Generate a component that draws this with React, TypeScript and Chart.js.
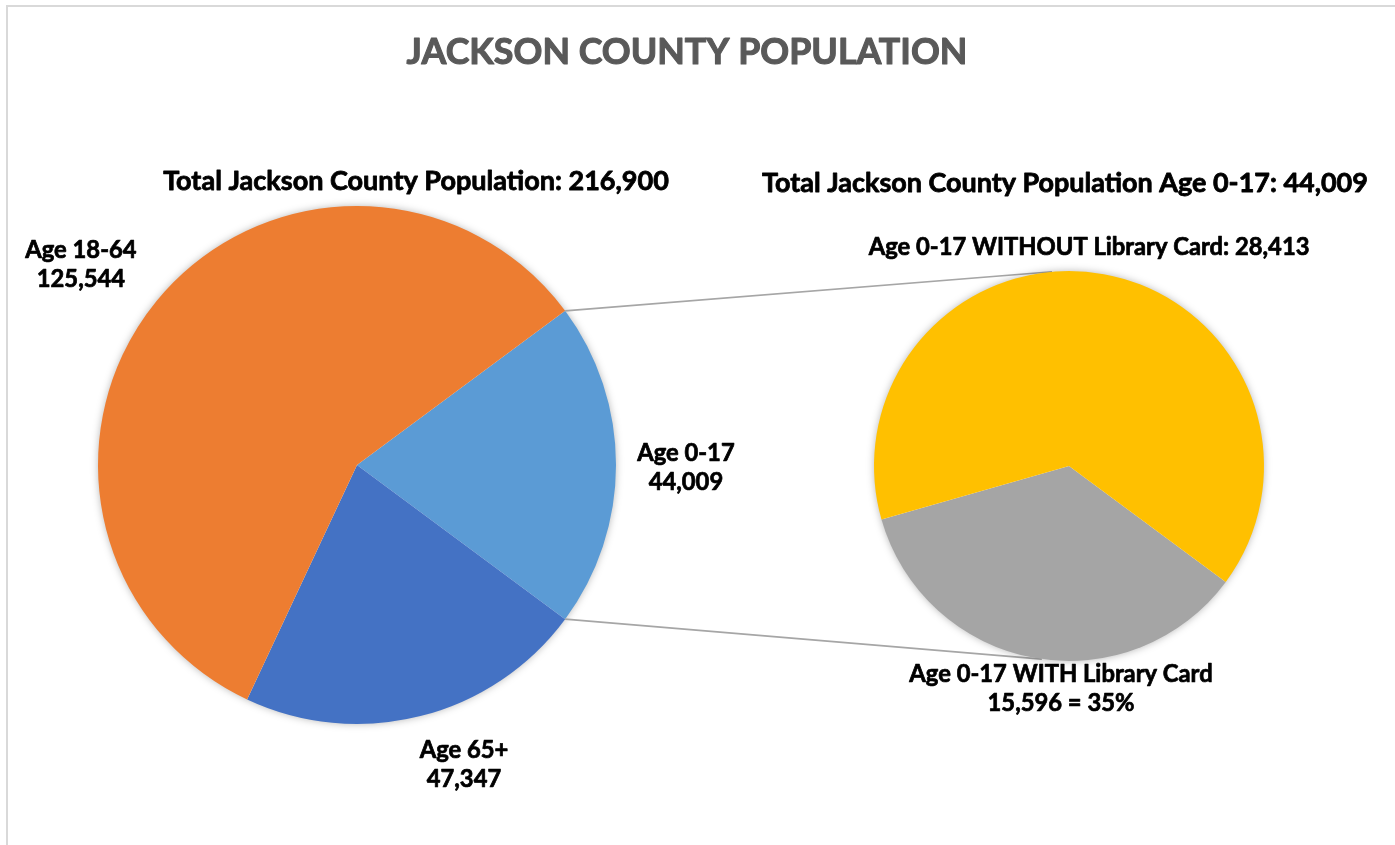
import React, { useEffect, useRef } from "react";
import { Chart, registerables } from "chart.js";

Chart.register(...registerables);

// ---- data ----
const mainCategories = ["Age 0-17", "Age 65+", "Age 18-64"];
const mainValues = [44009, 47347, 125544];
const mainColors = ["#5B9BD5", "#4472C4", "#ED7D31"];

const subCategories = ["Age 0-17 WITH Library Card", "Age 0-17 WITHOUT Library Card"];
const subValues = [15596, 28413];
const subColors = ["#A5A5A5", "#FFC000"];

const chartTitle = "JACKSON COUNTY POPULATION";
const mainTotalLabel = "Total Jackson County Population: 216,900";
const subTotalLabel = "Total Jackson County Population Age 0-17: 44,009";

const FONT = "Lato, 'Open Sans', sans-serif";
const W = 1395;
const H = 845;

const fmt = (v: number) => v.toLocaleString("en-US");

function fitSize(ctx: CanvasRenderingContext2D, text: string, targetW: number) {
  ctx.font = `bold 100px ${FONT}`;
  const w = ctx.measureText(text).width;
  return (100 * targetW) / w;
}

function drawLines(
  ctx: CanvasRenderingContext2D,
  lines: string[],
  cx: number,
  cy: number,
  size: number,
  color: string,
  lh: number
) {
  ctx.save();
  ctx.font = `bold ${size}px ${FONT}`;
  ctx.fillStyle = color;
  ctx.strokeStyle = color;
  ctx.lineWidth = size * 0.03;
  ctx.lineJoin = "round";
  ctx.textAlign = "center";
  ctx.textBaseline = "middle";
  const start = cy - ((lines.length - 1) * lh) / 2;
  lines.forEach((l, i) => {
    ctx.fillText(l, cx, start + i * lh);
    ctx.strokeText(l, cx, start + i * lh);
  });
  ctx.restore();
}

function pieGeom(chart: any) {
  const arc: any = chart.getDatasetMeta(0).data[0];
  const p = arc.getProps(["x", "y", "outerRadius"], true);
  return { x: p.x as number, y: p.y as number, r: p.outerRadius as number };
}

function shadowCircle(chart: any) {
  const { ctx } = chart;
  const g = pieGeom(chart);
  ctx.save();
  ctx.beginPath();
  ctx.arc(g.x, g.y, g.r - 1, 0, Math.PI * 2);
  ctx.fillStyle = "#ffffff";
  ctx.shadowColor = "rgba(0,0,0,0.35)";
  ctx.shadowBlur = 9;
  ctx.fill();
  ctx.restore();
}

export default function App() {
  const leftRef = useRef<HTMLCanvasElement>(null);
  const rightRef = useRef<HTMLCanvasElement>(null);

  useEffect(() => {
    if (!leftRef.current || !rightRef.current) return;
    const leftC = { x: 357, y: 465, r: 259 };
    const rightC = { x: 1069, y: 466, r: 195 };

    const mainTotal = mainValues.reduce((a, b) => a + b, 0);
    const subTotal = subValues.reduce((a, b) => a + b, 0);
    const mainRotation = 90 - ((mainValues[0] / mainTotal) * 360) / 2;
    const subRotation = 126.5;

    const labelSizeOf = (ctx: CanvasRenderingContext2D) =>
      fitSize(ctx, `${subCategories[1]}: ${fmt(subValues[1])}`, 441);

    const leftPlugin = {
      id: "leftDecor",
      beforeDatasetsDraw(chart: any) {
        shadowCircle(chart);
      },
      afterDraw(chart: any) {
        const ctx: CanvasRenderingContext2D = chart.ctx;
        const g = pieGeom(chart);
        const titleSize = fitSize(ctx, chartTitle, 561);
        drawLines(ctx, [chartTitle], 687, 52, titleSize, "#595959", 0);
        const subSize = fitSize(ctx, mainTotalLabel, 506);
        drawLines(ctx, [mainTotalLabel], 416, 181, subSize, "#000", 0);
        const ls = labelSizeOf(ctx);
        const lh = ls * 1.24;
        const offs = [
          [1.27, 0.01],
          [0.413, 1.158],
          [-1.066, -0.772],
        ];
        mainCategories.forEach((c, i) => {
          drawLines(
            ctx,
            [c, fmt(mainValues[i])],
            g.x + offs[i][0] * g.r,
            g.y + offs[i][1] * g.r,
            ls,
            "#000",
            lh
          );
        });
      },
    };

    const leftChart = new Chart(leftRef.current, {
      type: "pie",
      data: {
        labels: mainCategories,
        datasets: [
          {
            data: mainValues,
            backgroundColor: mainColors,
            borderWidth: 0,
            hoverOffset: 0,
          },
        ],
      },
      options: {
        responsive: false,
        animation: false,
        events: [],
        rotation: mainRotation,
        layout: {
          padding: {
            left: leftC.x - leftC.r,
            top: leftC.y - leftC.r,
            right: W - (leftC.x + leftC.r),
            bottom: H - (leftC.y + leftC.r),
          },
        },
        plugins: {
          legend: { display: false },
          tooltip: { enabled: false },
        },
      },
      plugins: [leftPlugin],
    });

    const rightPlugin = {
      id: "rightDecor",
      beforeDatasetsDraw(chart: any) {
        const ctx: CanvasRenderingContext2D = chart.ctx;
        const lg = pieGeom(leftChart);
        const rg = pieGeom(chart);
        const arc0: any = leftChart.getDatasetMeta(0).data[0];
        const a = arc0.getProps(["startAngle", "endAngle"], true);
        const top = -95 * (Math.PI / 180);
        const bot = 98 * (Math.PI / 180);
        ctx.save();
        ctx.strokeStyle = "#A6A6A6";
        ctx.lineWidth = 1.6;
        ctx.beginPath();
        ctx.moveTo(lg.x + lg.r * Math.cos(a.startAngle), lg.y + lg.r * Math.sin(a.startAngle));
        ctx.lineTo(rg.x + rg.r * Math.cos(top), rg.y + rg.r * Math.sin(top));
        ctx.moveTo(lg.x + lg.r * Math.cos(a.endAngle), lg.y + lg.r * Math.sin(a.endAngle));
        ctx.lineTo(rg.x + rg.r * Math.cos(bot), rg.y + rg.r * Math.sin(bot));
        ctx.stroke();
        ctx.restore();
        shadowCircle(chart);
      },
      afterDraw(chart: any) {
        const ctx: CanvasRenderingContext2D = chart.ctx;
        const g = pieGeom(chart);
        const subSize = fitSize(ctx, subTotalLabel, 606);
        drawLines(ctx, [subTotalLabel], 1065, 183, subSize, "#000", 0);
        const ls = labelSizeOf(ctx);
        const lh = ls * 1.2;
        const pct = Math.round((subValues[0] / subTotal) * 100);
        drawLines(
          ctx,
          [subCategories[0], `${fmt(subValues[0])} = ${pct}%`],
          g.x - 0.041 * g.r,
          g.y + 1.144 * g.r,
          ls,
          "#000",
          lh
        );
        drawLines(
          ctx,
          [`${subCategories[1]}: ${fmt(subValues[1])}`],
          g.x + 0.103 * g.r,
          g.y - 1.123 * g.r,
          ls,
          "#000",
          lh
        );
      },
    };

    const rightChart = new Chart(rightRef.current, {
      type: "pie",
      data: {
        labels: subCategories,
        datasets: [
          {
            data: subValues,
            backgroundColor: subColors,
            borderWidth: 0,
            hoverOffset: 0,
          },
        ],
      },
      options: {
        responsive: false,
        animation: false,
        events: [],
        rotation: subRotation,
        layout: {
          padding: {
            left: rightC.x - rightC.r,
            top: rightC.y - rightC.r,
            right: W - (rightC.x + rightC.r),
            bottom: H - (rightC.y + rightC.r),
          },
        },
        plugins: {
          legend: { display: false },
          tooltip: { enabled: false },
        },
      },
      plugins: [rightPlugin],
    });

    return () => {
      rightChart.destroy();
      leftChart.destroy();
    };
  }, []);

  const canvasStyle: React.CSSProperties = {
    position: "absolute",
    left: 0,
    top: 0,
    width: W,
    height: H,
  };

  return (
    <div
      style={{
        position: "fixed",
        left: 0,
        top: 0,
        width: W,
        height: H,
        overflow: "hidden",
        background: "#ffffff",
      }}
    >
      <div
        style={{
          position: "absolute",
          left: 6,
          top: 5,
          width: W + 20,
          height: H + 20,
          borderLeft: "2px solid #D9D9D9",
          borderTop: "2px solid #D9D9D9",
        }}
      />
      <canvas ref={leftRef} width={W} height={H} style={canvasStyle} />
      <canvas ref={rightRef} width={W} height={H} style={canvasStyle} />
    </div>
  );
}
